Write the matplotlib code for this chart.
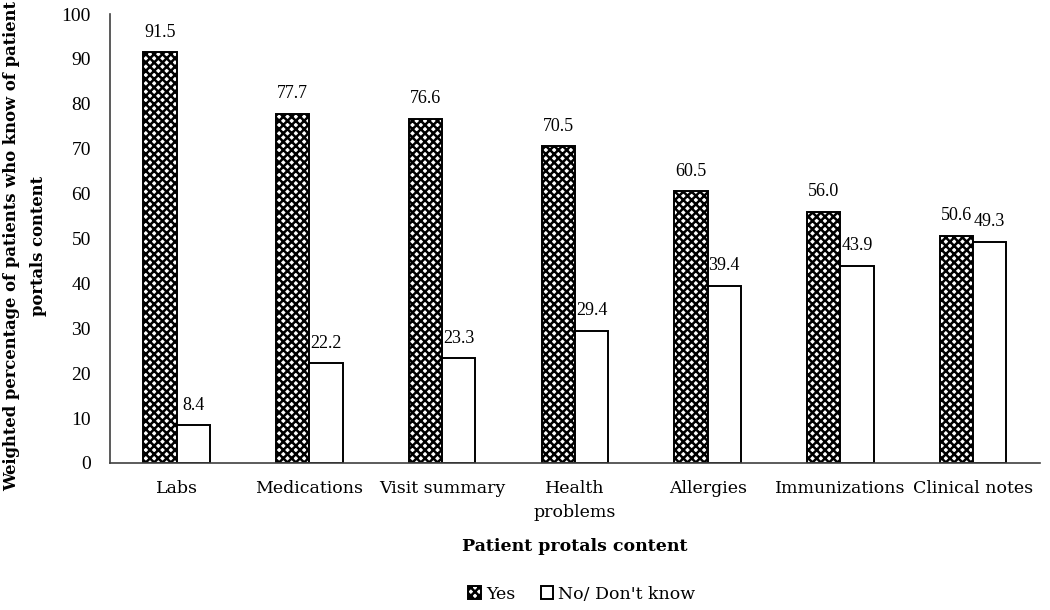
import numpy as np
import matplotlib.pyplot as plt
import matplotlib as mpl

categories = ["Labs", "Medications", "Visit summary", "Health\nproblems",
              "Allergies", "Immunizations", "Clinical notes"]
yes_vals = [91.5, 77.7, 76.6, 70.5, 60.5, 56.0, 50.6]
no_vals = [8.4, 22.2, 23.3, 29.4, 39.4, 43.9, 49.3]

text_font = ['DejaVu Serif']
num_font = ['Liberation Serif', 'DejaVu Serif']
plt.rcParams['font.family'] = text_font
plt.rcParams['hatch.linewidth'] = 1.8

fig = plt.figure(figsize=(10.5, 6.1), dpi=100)
ax = fig.add_axes([0.105, 0.241, 0.885, 0.736])

x = np.arange(len(categories))
w = 0.25
b1 = ax.bar(x - w / 2, yes_vals, w, color='white', edgecolor='black',
            hatch='xxxx', linewidth=1.4, label='Yes')
b2 = ax.bar(x + w / 2, no_vals, w, color='white', edgecolor='black',
            linewidth=1.4, label="No/ Don't know")

for bars, vals in ((b1, yes_vals), (b2, no_vals)):
    for rect, v in zip(bars, vals):
        ax.text(rect.get_x() + rect.get_width() / 2, v + 2.6, f"{v:.1f}",
                ha='center', va='bottom', fontsize=13, family=num_font)

ax.set_xlim(-0.5, len(categories) - 0.5)
ax.set_ylim(0, 100)
ax.set_yticks(range(0, 101, 10))
ax.set_xticks(x)
ax.set_xticklabels(categories, fontsize=12.5, linespacing=1.6)
ax.tick_params(axis='y', labelsize=14, length=0, pad=14)
for lbl in ax.get_yticklabels():
    lbl.set_family(num_font)
ax.tick_params(axis='x', length=0, pad=12)
for s in ['top', 'right']:
    ax.spines[s].set_visible(False)
for s in ['left', 'bottom']:
    ax.spines[s].set_color('#404040')
    ax.spines[s].set_linewidth(1.2)

fig.text(25 / 1050, 1 - 246 / 610,
         "Weighted percentage of patients who know of patient\nportals content",
         rotation=90, ha='center', va='center', fontsize=11.8,
         fontweight='bold', linespacing=1.75)
ax.set_xlabel("Patient protals content", fontsize=12.5, fontweight='bold', labelpad=12)

fig.legend(handles=[b1, b2], loc='center', bbox_to_anchor=(582 / 1050, 0.026), ncol=2,
           frameon=False, fontsize=12.5, handlelength=0.7, handleheight=0.7,
           columnspacing=1.5, handletextpad=0.3)

fig.savefig("out.png", dpi=100)
